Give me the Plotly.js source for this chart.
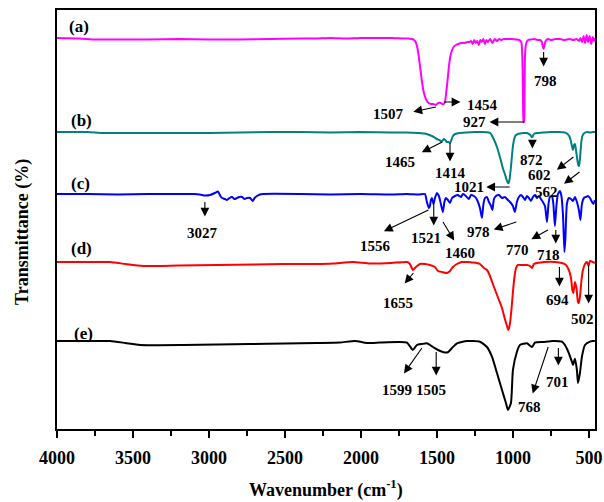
<!DOCTYPE html>
<html>
<head>
<meta charset="utf-8">
<script src="https://cdn.plot.ly/plotly-3.0.1.min.js"></script>
<style>html,body{margin:0;padding:0;background:#fff;}#chart{width:604px;height:502px;}</style>
</head>
<body>
<div id="chart"></div>
<script>
// ---------------- DATA ----------------
// Each spectrum: wavenumbers (cm-1) and depth of the dip below its own baseline (arbitrary transmittance units)
const seriesNames = ['(a)', '(b)', '(c)', '(d)', '(e)'];
const seriesColors = ['#FF00FF', '#008080', '#0000FF', '#FF0000', '#000000'];

const wnA = [4000,3850,3750,3600,3400,3200,3000,2900,2800,2600,2400,2300,2200,2100,2000,1900,1800,1720,1690,1665,1650,1640,1630,1620,1610,1600,1590,1580,1570,1555,1540,1525,1510,1500,1490,1475,1465,1455,1447,1440,1430,1420,1410,1400,1390,1375,1360,1340,1320,1300,1285,1275,1265,1255,1245,1235,1225,1215,1205,1195,1185,1175,1165,1150,1135,1120,1105,1090,1075,1060,1040,1010,980,960,945,938,934,930,927,924,920,912,900,880,860,840,820,810,803,798,793,785,770,750,720,690,660,630,600,580,565,555,545,535,525,515,505,495,485,475,465,460];
const dipA = [0,0.5,1.5,1.5,1.5,1,1.5,1.5,1.5,1,0.5,0.5,0,0.5,0,0,0,0.5,0.5,1,2,4,9,18,30,42,52,58,62,65,66,66,67,66,65,65,66,66,64,56,42,27,17,12,9,7,6,5,5,4,4,3,6,2,5,3,7,2,4,1,6,2,4,1,5,1,3,1,2,1,1,1,1.5,2,4,20,60,84,84,60,15,5,2,1.5,1,2,2,4,9,11,8,3,1,2,1,1,2,1,2,1,3,0,4,-2,5,-3,4,-2,6,-1,3,0];

const wnB = [4000,3800,3700,3500,3300,3000,2800,2600,2400,2200,2000,1800,1700,1620,1580,1550,1520,1500,1485,1475,1465,1455,1445,1435,1425,1414,1405,1395,1380,1350,1300,1250,1200,1160,1150,1140,1130,1118,1105,1095,1086,1075,1065,1053,1045,1039,1033,1028,1022,1015,1007,1000,990,980,967,954,930,910,895,885,878,872,866,858,840,800,750,700,660,645,630,620,612,605,598,592,585,578,570,565,558,550,543,530,510,490,475,460];
const dipB = [0,0,1,1,1,1,0.5,0,0,0.5,0,0.5,0.5,1,1.5,3,5,7,8,9,9,7,8,10,10,11,8,4,2,1,0.5,0,0,0.5,1,3,6,10,15,20,25,31,37,42,46,49,51,51,47,38,25,14,6,3,2,1.5,1,1,2,3,5,5,3,1.5,1,0.5,0,0,0.5,1.5,4,8,14,18,13,12,18,26,33,34,25,10,4,1,0,0.5,0,0];

const wnC = [4000,3800,3600,3400,3200,3100,3060,3026,2993,2961,2941,2925,2914,2895,2882,2865,2849,2832,2816,2800,2783,2765,2750,2730,2718,2711,2700,2684,2665,2645,2400,2200,2000,1800,1700,1620,1579,1566,1553,1546,1540,1533,1523,1513,1500,1487,1474,1461,1451,1441,1428,1414,1401,1382,1362,1342,1329,1309,1290,1276,1257,1243,1230,1217,1204,1194,1184,1171,1158,1144,1135,1125,1112,1092,1072,1053,1033,1013,1000,987,974,961,947,934,921,908,895,882,868,855,842,829,816,803,789,776,766,757,743,734,724,714,704,691,681,671,661,655,645,632,618,605,592,579,566,556,546,533,520,507,493,480,470,461];
const dipC = [0,0,0.5,0,0,0,0.5,1.5,1,-1,-2.5,2,4,5,6,4,3,5,4,3,3,5,4,4,6,7,4,2,0.5,0,0,0.5,0,0.5,0,0.5,0,8,14,12,6,4,10,4,-1,2,10,18,8,4,6,9,4,2,1,3,0,2,5,1,2,4,8,14,24,10,4,3,8,12,16,5,2,1,4,3,6,9,12,18,8,3,1,3,6,2,4,7,3,1,4,2,5,8,12,28,10,3,2,10,32,12,0,-3,2,20,58,45,10,4,5,7,3,8,16,26,10,4,3,2,4,8,10,6];

const wnD = [4000,3800,3651,3550,3434,3200,2947,2700,2513,2300,2184,2053,1941,1800,1697,1678,1658,1638,1612,1579,1546,1513,1493,1467,1434,1414,1395,1368,1336,1303,1270,1237,1217,1191,1171,1151,1132,1112,1092,1072,1053,1039,1030,1020,1010,1000,990,980,967,941,908,888,875,862,842,789,724,678,651,632,618,609,602,592,582,572,566,559,549,539,526,513,503,493,474,461];
const dipD = [0,0,0,2,4,3.5,3,2.5,2,2,1.5,0,1.5,1,0,2,8,5,2,2,3,5,9,10,11,9,5,2,0,0,0.5,1,2,6,8,14,22,30,38,46,57,64,68,62,48,30,15,6,3,3,3,4,6,2,1,0,0,1,3,8,16,28,31,20,26,40,41,35,18,8,2,0,4,-1,0,1];

const wnE = [4000,3800,3651,3550,3454,3171,2947,2730,2500,2289,2138,2039,1961,1875,1750,1697,1658,1632,1599,1566,1526,1493,1461,1428,1401,1368,1303,1217,1171,1138,1105,1072,1046,1033,1013,1000,974,954,908,875,855,800,737,678,658,638,612,605,592,579,572,559,546,526,493,474,461];
const dipE = [0,0,0,2,4,4,3.5,3,2.5,2,1.5,0,2,1.5,1,1.7,9,4,3,2.3,6,9,11,11.3,7,2.3,0,0.7,6,15.7,32,49,62,69,62,29,11,4,2.3,6,1.7,1,0,0.7,4,10,20.7,24,17.7,29,42,32,15.7,4,0.7,0,0];

// vertical stacking of the spectra (baseline level of each curve)
const stackOffsets = [291, 197, 135, 67, -12];

// peak labels: text, wavenumber
const peakText = ['1507','1454','927','798','1465','1414','1021','872','602','562','3027','1556','1521','1460','978','770','718','1655','694','502','1599','1505','768','701'];
const peakWn   = [1507,1454,927,798,1465,1414,1021,872,602,562,3027,1556,1521,1460,978,770,718,1655,694,502,1599,1505,768,701];

// ---------------- PLACEMENT (pixels) ----------------
const PLOT_TOP = 10, PLOT_BOTTOM = 429, PLOT_LEFT = 57, PLOT_RIGHT = 595;
const tailPy = [107,102,122,52,142,143,187,140,157,172,202,210,202,222,222,230,230,273,267,265,348,352,347,348];
const arrDX  = [-24,18,-36,0,-22,0,-25,0,-18,-17,0,-46,0,12,-24,-18,0,-10,0,0,-19,0,-16,0];
const arrDY  = [5,0,0,16,11,20,0,10,14,13,16,22,25,20,8,10,15,12,21,40,27,25,48,19];
const txtDX  = [-47,39,-50,2,-42,0,-41,-1,-34,-33,-2,-53,-8,17,-38,-30,-7,-15,-2,-6,-25,-5,-19,-1];
const txtDY  = [7,3,0,29,20,30,0,20,18,20,31,36,36,31,10,20,25,30,33,54,42,38,60,34];
const nameX  = [79,81,80,81,83];
const nameY  = [27,120,183,248,333];

const serif = 'Liberation Serif, Times New Roman, serif';

const wns = [wnA, wnB, wnC, wnD, wnE];
const dips = [dipA, dipB, dipC, dipD, dipE];
const traces = wns.map((w, i) => ({
  type: 'scatter', mode: 'lines',
  x: w,
  y: dips[i].map(d => stackOffsets[i] + 100 - d),
  line: {color: seriesColors[i], width: 2, shape: 'spline', smoothing: 0.5},
  hoverinfo: 'skip', showlegend: false
}));

const ann = [];
const toY = py => PLOT_BOTTOM - py;
peakText.forEach((t, i) => {
  ann.push({x: peakWn[i], y: toY(tailPy[i]), xref: 'x', yref: 'y', text: '', showarrow: true,
    ax: arrDX[i], ay: arrDY[i], arrowside: 'start', startarrowhead: 2, startarrowsize: 1.6,
    arrowwidth: 1.1, arrowcolor: '#000'});
  ann.push({x: peakWn[i], y: toY(tailPy[i]), xref: 'x', yref: 'y', text: t, showarrow: false,
    xshift: txtDX[i], yshift: -txtDY[i], xanchor: 'center', yanchor: 'middle',
    font: {family: serif, size: 15, color: '#000', weight: 'bold'}});
});
const pw = PLOT_RIGHT - PLOT_LEFT, ph = PLOT_BOTTOM - PLOT_TOP;
seriesNames.forEach((n, i) => {
  ann.push({xref: 'paper', yref: 'paper', x: (nameX[i] - PLOT_LEFT) / pw, y: (PLOT_BOTTOM - nameY[i]) / ph,
    text: n, showarrow: false, xanchor: 'center', yanchor: 'middle',
    font: {family: serif, size: 17, color: '#000', weight: 'bold'}});
});
ann.push({xref: 'paper', yref: 'paper', x: (22 - PLOT_LEFT) / pw, y: (PLOT_BOTTOM - 232) / ph,
  text: 'Transmittance (%)', textangle: -90, showarrow: false, xanchor: 'center', yanchor: 'middle',
  font: {family: serif, size: 18, color: '#000', weight: 'bold'}});
ann.push({xref: 'paper', yref: 'paper', x: (326 - PLOT_LEFT) / pw, y: (PLOT_BOTTOM - 489) / ph,
  text: 'Wavenumber (cm<sup>-1</sup>)', showarrow: false, xanchor: 'center', yanchor: 'middle',
  font: {family: serif, size: 18, color: '#000', weight: 'bold'}});

const layout = {
  width: 604, height: 502,
  margin: {l: PLOT_LEFT, r: 604 - PLOT_RIGHT, t: PLOT_TOP, b: 502 - PLOT_BOTTOM, pad: 0},
  paper_bgcolor: '#fff', plot_bgcolor: '#fff',
  showlegend: false,
  xaxis: {range: [4000, 460], tick0: 500, dtick: 500, ticks: 'outside', ticklen: 7, tickwidth: 1.5,
    tickcolor: '#000', showline: true, linewidth: 2, linecolor: '#000', mirror: true,
    showgrid: false, zeroline: false, ticklabelstandoff: 4,
    minor: {dtick: 250, ticks: 'outside', ticklen: 5, tickwidth: 1.5, tickcolor: '#000', showgrid: false},
    tickfont: {family: serif, size: 18, color: '#000', weight: 'bold'}},
  yaxis: {range: [0, PLOT_BOTTOM - PLOT_TOP], showticklabels: false, ticks: '', showline: true,
    linewidth: 2, linecolor: '#000', mirror: true, showgrid: false, zeroline: false},
  annotations: ann
};
Plotly.newPlot('chart', traces, layout, {displayModeBar: false, staticPlot: true});
</script>
</body>
</html>
